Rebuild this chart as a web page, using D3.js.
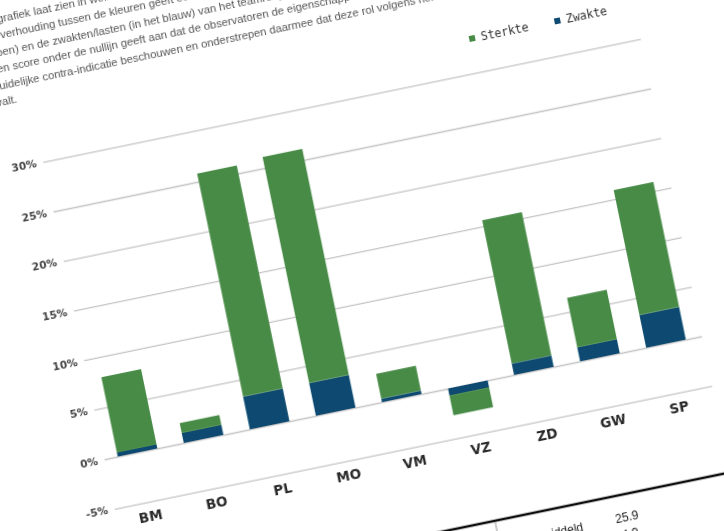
<html>
  <head>
    <script src="https://cdnjs.cloudflare.com/ajax/libs/d3/7.8.5/d3.min.js"></script>
    <style>
    body {
      margin: 0;
      background-color: white;
    }
    svg {
      display: block;
      background-color: white;
    }
    .grid line {
      stroke: #c4c4c4;
      stroke-width: 1.3;
    }
    .grid text {
      fill: #444;
      font-family: "DejaVu Sans", Verdana, sans-serif;
      font-weight: bold;
      font-size: 10.5px;
    }
    .cats text {
      fill: #2a2a2a;
      font-family: "DejaVu Sans", Verdana, sans-serif;
      font-weight: bold;
      font-size: 13.5px;
    }
    .intro text {
      fill: #555;
      font-family: "Liberation Sans", Arial, sans-serif;
      font-size: 11.3px;
    }
    .legend text {
      fill: #333;
      font-family: "DejaVu Sans Mono", monospace;
      font-size: 11.5px;
    }
    .table text {
      fill: #222;
      font-family: "Liberation Sans", Arial, sans-serif;
      font-size: 12px;
    }
    </style>
  </head>
  <body>
    <svg width="724" height="531" id="chart"></svg>

    <script>
    // values, in percent
    var categories = ['BM', 'BO', 'PL', 'MO', 'VM', 'VZ', 'ZD', 'GW', 'SP'];
    var zwakte  = [0.4, 1.0, 3.3, 3.3, 0.35, -0.7, 1.15, 1.4, 3.3];
    var sterkte = [7.6, 1.0, 22.5, 22.8, 2.5, -2.0, 14.45, 5.0, 12.6];
    var yTicks = [-5, 0, 5, 10, 15, 20, 25, 30];
    var seriesNames = ['Sterkte', 'Zwakte'];
    var colors = {Sterkte: '#478b46', Zwakte: '#0b4a70'};

    var introLines = [
      'De grafiek laat zien in welke mate de observatoren de teamrollen herkennen.',
      'De verhouding tussen de kleuren geeft een beeld van de sterkten/kwaliteiten (in het',
      'groen) en de zwakten/lasten (in het blauw) van het teamrol gedrag.',
      'Een score onder de nullijn geeft aan dat de observatoren de eigenschappen als',
      'duidelijke contra-indicatie beschouwen en onderstrepen daarmee dat deze rol volgens hen niet',
      'valt.'
    ];
    var tableRows = [['Gemiddeld', '25.9'], ['', '4.9']];

    var svg = d3.select('#chart');
    var width = 607;

    // a soft blur, the reference is a photo of a screen
    svg.append('defs')
      .append('filter')
      .attr('id', 'soft')
      .append('feGaussianBlur')
      .attr('stdDeviation', 0.45);

    // the photo is taken at an angle, so the whole page is turned
    var page = svg.append('g')
      .attr('filter', 'url(#soft)')
      .attr('transform', 'translate(104.5 459.3) rotate(-11.64)');

    var x = d3.scaleBand()
      .domain(categories)
      .range([0, width])
      .paddingInner(0.4)
      .paddingOuter(0.2);

    var y = d3.scaleLinear()
      .domain([-5, 30])
      .range([50.6, -303.6]);

    var grid = page.append('g')
      .attr('class', 'grid')
      .call(d3.axisLeft(y)
        .tickValues(yTicks)
        .tickSize(-width - 3)
        .tickPadding(7)
        .tickFormat(function(d) { return d + '%'; }));
    grid.select('.domain').remove();

    var rows = categories.map(function(c, i) {
      return {cat: c, Zwakte: zwakte[i], Sterkte: sterkte[i]};
    });
    var stacked = d3.stack()
      .keys(['Zwakte', 'Sterkte'])
      .offset(d3.stackOffsetDiverging)(rows);

    page.append('g')
      .selectAll('g')
      .data(stacked)
      .enter()
      .append('g')
      .attr('fill', function(s) { return colors[s.key]; })
      .selectAll('rect')
      .data(function(s) { return s; })
      .enter()
      .append('rect')
      .attr('x', function(d) { return x(d.data.cat); })
      .attr('width', x.bandwidth())
      .attr('y', function(d) { return y(Math.max(d[0], d[1])); })
      .attr('height', function(d) { return Math.abs(y(d[0]) - y(d[1])); });

    var cats = page.append('g')
      .attr('class', 'cats')
      .attr('transform', 'translate(0 ' + y(-5) + ')')
      .call(d3.axisBottom(x).tickSize(0).tickPadding(10));
    cats.select('.domain').remove();

    var legend = page.append('g')
      .attr('class', 'legend')
      .selectAll('g')
      .data(seriesNames)
      .enter()
      .append('g')
      .attr('transform', function(d, i) {
        return 'translate(' + (442 + i * 87) + ' -338)';
      });
    legend.append('rect')
      .attr('x', 0)
      .attr('y', -3)
      .attr('width', 6)
      .attr('height', 6)
      .attr('fill', function(d) { return colors[d]; });
    legend.append('text')
      .attr('x', 12)
      .attr('dy', '0.35em')
      .text(function(d) { return d; });

    page.append('g')
      .attr('class', 'intro')
      .selectAll('text')
      .data(introLines)
      .enter()
      .append('text')
      .attr('x', -34)
      .attr('y', function(d, i) { return -449.5 + i * 16.5; })
      .text(function(d) { return d; });

    // table that starts under the chart
    var table = page.append('g').attr('class', 'table');
    table.append('line')
      .attr('x1', 0).attr('x2', 720)
      .attr('y1', 139).attr('y2', 139)
      .attr('stroke', '#111')
      .attr('stroke-width', 2.6);
    table.append('line')
      .attr('x1', 370).attr('x2', 370)
      .attr('y1', 140).attr('y2', 200)
      .attr('stroke', '#999')
      .attr('stroke-width', 1);
    table.selectAll('.label')
      .data(tableRows)
      .enter()
      .append('text')
      .attr('x', 455)
      .attr('y', function(d, i) { return 166.5 + i * 17; })
      .attr('text-anchor', 'end')
      .text(function(d) { return d[0]; });
    table.selectAll('.value')
      .data(tableRows)
      .enter()
      .append('text')
      .attr('x', 500)
      .attr('y', function(d, i) { return 166 + i * 17; })
      .attr('text-anchor', 'middle')
      .text(function(d) { return d[1]; });
    </script>
  </body>
</html>
